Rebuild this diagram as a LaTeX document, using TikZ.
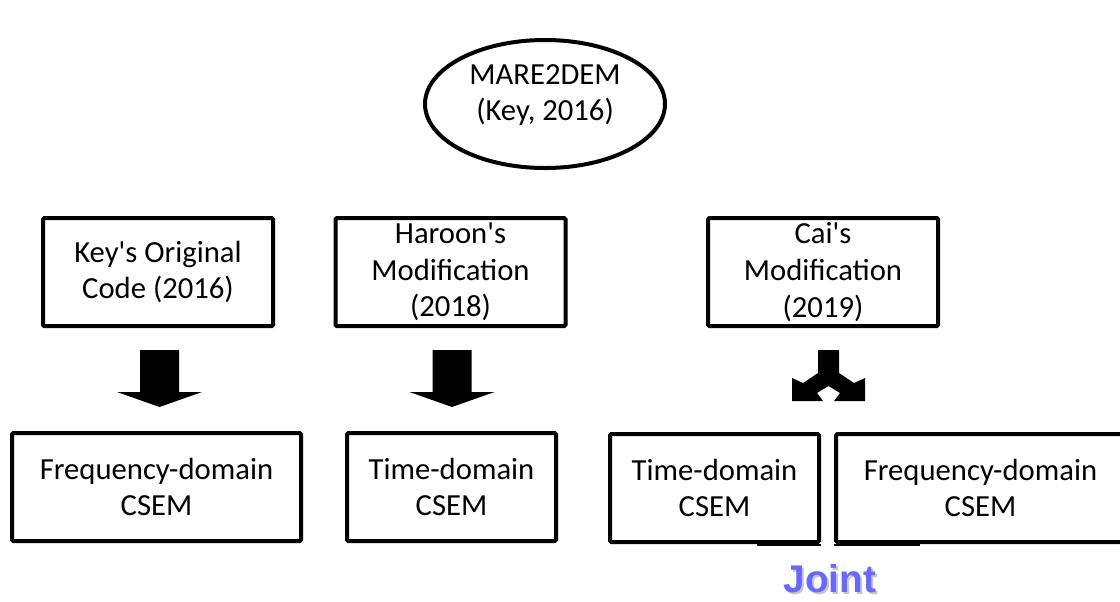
\documentclass[tikz,border=0pt]{standalone}
\usepackage{fontspec}
\newfontfamily\boxfont{Carlito}
\newfontfamily\jointfont{Liberation Sans}
\usetikzlibrary{
    calc,
    positioning,
    shapes.geometric
}
\definecolor{jointblue}{RGB}{104,104,255}
\tikzset{
    every picture/.style = {
        x = 0.75pt,
        y = -0.75pt
    },
    blockbox/.style = {
        draw,
        line width = 3pt,
        rounded corners = 1pt,
        minimum height = 81pt,
        inner sep = 0pt,
        align = center,
        font = \boxfont\fontsize{23}{27.5}\selectfont
    },
    narrow/.style = {minimum width = 156.75pt},
    medium/.style = {minimum width = 172.5pt},
    wide/.style   = {minimum width = 216.75pt},
    jointtext/.style = {
        inner sep = 0pt,
        font = \jointfont\bfseries\fontsize{29}{30}\selectfont
    },
    pics/downarrow/.style = {
        code = {
            \fill (-19.5, 0) -- (19.5, 0) -- (19.5, 42) -- (42.5, 42) -- (0, 57)
                -- (-42.5, 42) -- (-19.5, 42) -- cycle;
        }
    },
    pics/splitarrow/.style = {
        code = {
            \fill (-10.5, 0) -- (10.5, 0) -- (10.5, 23) -- (25.5, 33) -- (36.5, 28)
                -- (36.5, 51) -- (5.5, 51) -- (11.5, 43) -- (0, 36)
                -- (-11.5, 43) -- (-5.5, 51) -- (-36.5, 51) -- (-36.5, 28)
                -- (-25.5, 33) -- (-10.5, 23) -- cycle;
        }
    }
}

\begin{document}
\begin{tikzpicture}

    \useasboundingbox (0, 0) rectangle (1120, 601);

    % top
    \node[draw, ellipse, line width = 3pt, minimum width = 180pt, minimum height = 96pt] (mare) at (545, 104) {};
    \node[align = center, font = \boxfont\fontsize{23}{27.5}\selectfont] (maretext) at (545, 95) {MARE2DEM\\(Key, 2016)};

    % codes
    \node[blockbox, medium] (key) at (158, 272) {Key's Original\\Code (2016)};
    \node[blockbox, medium] (haroon) at (450.5, 272) {Haroon's\\Modification\\(2018)};
    \node[blockbox, medium] (cai) at (823, 272) {Cai's\\Modification\\(2019)};

    % methods
    \node[blockbox, wide] (freqA) at (156.5, 487) {Frequency-domain\\CSEM};
    \node[blockbox, narrow] (timeA) at (451.5, 487) {Time-domain\\CSEM};
    \node[blockbox, narrow] (timeB) at (714.5, 488) {Time-domain\\CSEM};
    \node[blockbox, wide] (freqB) at (980.5, 488) {Frequency-domain\\CSEM};

    \pic at ($(key.south) + (1.5, 22)$) {downarrow};
    \pic at ($(haroon.south) + (1.5, 22)$) {downarrow};
    \pic at ($(cai.south) + (5.5, 22)$) {splitarrow};

    \draw[line width = 1.5pt] ($(timeB.south east) + (-64, 1)$) -- ($(timeB.south east) + (0, 1)$);
    \draw[line width = 1.5pt] ($(freqB.south west) + (0, 1)$) -- ($(freqB.south west) + (86, 1)$);

    % joint
    \node[jointtext, text = black!22] (jointshadow) at (832, 581) {Joint};
    \node[jointtext, text = jointblue] (joint) at (830, 579) {Joint};

\end{tikzpicture}
\end{document}
